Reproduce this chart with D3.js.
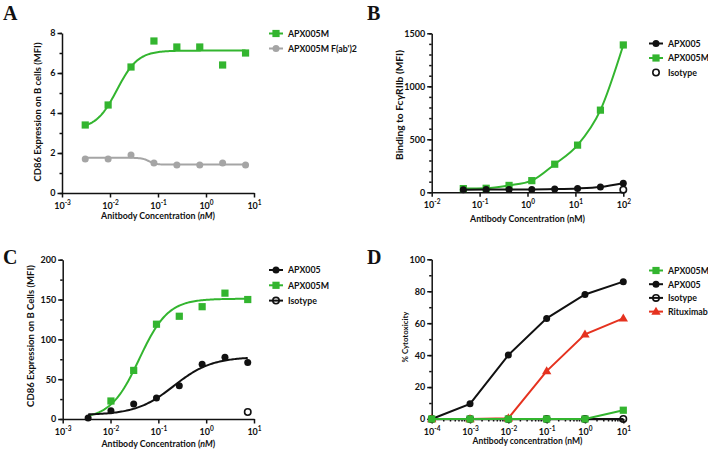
<!DOCTYPE html>
<html>
  <head>
    <meta charset="utf-8">
    <title>D3</title>
    <script src="https://d3js.org/d3.v7.min.js"></script>
    <style>
      body { margin: 0; background: #fff; }
      text { font-family: Lato, "Open Sans", sans-serif; }
    </style>
  </head>
  <body>
    <script type="text/javascript">
      // panel A
      var concA = [0.00305, 0.00914, 0.0274, 0.0823, 0.247, 0.741, 2.22, 6.67];
      var apx005mA = [3.4, 4.4, 6.3, 7.6, 7.3, 7.3, 6.4, 7.0];
      var fabA = [1.7, 1.7, 1.9, 1.5, 1.4, 1.4, 1.5, 1.4];
      // 4PL fit: value at low conc, value at high conc, ec50, hill
      var fitApx005mA = [3.2, 7.12, 0.014, 2.0];
      var fitFabA = [1.76, 1.42, 0.065, 6];

      // panel B
      var concB = [0.0457, 0.137, 0.412, 1.23, 3.70, 11.1, 33.3, 100];
      var apx005B = [25, 26, 27, 27, 30, 36, 50, 85];
      var apx005mB = [35, 38, 65, 110, 265, 445, 775, 1390];
      var isoConcB = [100];
      var isotypeB = [25];

      // panel C
      var concC = [0.0034, 0.0102, 0.0305, 0.0914, 0.274, 0.823, 2.47, 7.4];
      var apx005C = [1.3, 10.5, 18.8, 26.4, 41.8, 68.6, 77.4, 71];
      var concMC = [0.0102, 0.0305, 0.0914, 0.274, 0.823, 2.47, 7.4];
      var apx005mC = [22.6, 61, 119, 129, 141, 158, 150];
      var isoConcC = [7.4];
      var isotypeC = [8.8];
      var fitApx005C = [5, 78, 0.21, 1.1];
      var fitApx005mC = [0, 151, 0.04, 1.45];

      // panel D
      var concD = [1e-4, 1e-3, 1e-2, 1e-1, 1, 10];
      var apx005mD = [0, 0, 0, 0, 0, 5.5];
      var apx005D = [0, 9.5, 40, 63, 78, 86];
      var isotypeD = [0, 0, 0, 0, 0, 0];
      var rituxD = [0, 0, 0.5, 30, 53, 63];

      var green = '#33b52f', gray = '#a5a5a5', black = '#111', red = '#e5321f';

      var svg = d3.select('body').append('svg')
        .attr('width', 708).attr('height', 451);

      function logistic(p) {
        return function (x) { return p[0] + (p[1] - p[0]) / (1 + Math.pow(p[2] / x, p[3])); };
      }

      function fitPoints(p, lo, hi) {
        var f = logistic(p), pts = [];
        for (var i = 0; i <= 120; i++) {
          var x = Math.pow(10, Math.log10(lo) + (Math.log10(hi) - Math.log10(lo)) * i / 120);
          pts.push([x, f(x)]);
        }
        return pts;
      }

      // scale a text's font so that it spans the wanted length
      function fitText(t, size, len) {
        t.style('font-size', size + 'px');
        var l = t.node().getComputedTextLength();
        if (l > 0) t.style('font-size', (size * len / l) + 'px');
      }

      function drawMarker(g, shape, color, cx, cy) {
        if (shape == 'square') {
          g.append('rect').attr('x', cx - 3.6).attr('y', cy - 3.6).attr('width', 7.2).attr('height', 7.2).attr('fill', color);
        } else if (shape == 'circle') {
          g.append('circle').attr('cx', cx).attr('cy', cy).attr('r', 3.5).attr('fill', color);
        } else if (shape == 'open') {
          g.append('circle').attr('cx', cx).attr('cy', cy).attr('r', 3.2).attr('fill', 'none')
            .attr('stroke', color).attr('stroke-width', 1.6);
        } else if (shape == 'triangle') {
          g.append('path').attr('d', d3.symbol().type(d3.symbolTriangle).size(38)())
            .attr('transform', 'translate(' + cx + ',' + (cy + 0.5) + ')').attr('fill', color);
        }
      }

      function panel(o) {
        var g = svg.append('g');
        var x = d3.scaleLog().domain(o.xd).range(o.xr);
        var y = d3.scaleLinear().domain(o.yd).range(o.yr);

        // letter
        svg.append('text').attr('x', o.letter[0]).attr('y', o.letter[1]).text(o.name)
          .style('font-family', '"Liberation Serif", "DejaVu Serif", serif')
          .style('font-weight', 'bold').style('font-size', '20px').attr('fill', '#111');

        // y axis
        var yMinor = d3.range(o.yd[0], o.yd[1] + 1e-9, o.yMinor);
        g.append('g').attr('transform', 'translate(' + o.xr[0] + ',0)')
          .call(d3.axisLeft(y).tickValues(yMinor).tickSize(2.5).tickFormat(''))
          .call(function (s) { s.select('.domain').remove(); });
        g.append('g').attr('transform', 'translate(' + o.xr[0] + ',0)')
          .call(d3.axisLeft(y).tickValues(o.yTicks).tickSize(4.5).tickSizeOuter(0).tickPadding(2).tickFormat(d3.format('d')));

        // x axis
        var xAx = g.append('g').attr('transform', 'translate(0,' + o.yr[0] + ')')
          .call(d3.axisBottom(x).tickValues(o.xTicks).tickSize(4.5).tickSizeOuter(0).tickPadding(2.5).tickFormat(''));
        if (o.xMinor) {
          var minor = [];
          o.xTicks.forEach(function (t, i) {
            if (i < o.xTicks.length - 1) for (var k = 2; k <= 9; k++) minor.push(t * k);
          });
          g.append('g').attr('transform', 'translate(0,' + o.yr[0] + ')')
            .call(d3.axisBottom(x).tickValues(minor).tickSize(2.5).tickFormat(''))
            .call(function (s) { s.select('.domain').remove(); });
        }
        xAx.selectAll('.tick text').attr('dy', '1em').each(function (d) {
          var t = d3.select(this);
          t.append('tspan').text('10');
          t.append('tspan').text(Math.round(Math.log10(d))).attr('dy', -4).style('font-size', '6.5px');
        });
        g.selectAll('.domain, .tick line').attr('stroke', '#111').attr('stroke-width', 1.5);
        g.selectAll('.tick text').attr('fill', '#111').style('font-size', '9px').style('font-weight', 'bold');

        // labels
        var xl = svg.append('text').attr('x', (o.xr[0] + o.xr[1]) / 2).attr('y', o.xLabelY)
          .attr('text-anchor', 'middle').style('font-weight', 'bold').attr('fill', '#111');
        o.xLabel.forEach(function (part) {
          xl.append('tspan').text(part[0]).style('font-style', part[1] ? 'italic' : 'normal');
        });
        fitText(xl, 9.5, o.xLabelLen);
        var yl = svg.append('text').attr('transform', 'translate(' + o.yLabelX + ',' + o.yLabelY + ') rotate(-90)')
          .attr('text-anchor', 'middle').style('font-weight', 'bold').attr('fill', '#111')
          .text(o.yLabel);
        fitText(yl, 9.5, o.yLabelLen);

        // series
        o.series.forEach(function (s) {
          var line = d3.line().x(function (d) { return x(d[0]); }).y(function (d) { return y(d[1]); })
            .curve(s.curve || d3.curveLinear);
          if (s.fit) {
            g.append('path').datum(fitPoints(s.fit, s.fitFrom || s.xs[0], s.xs[s.xs.length - 1]))
              .attr('d', line).attr('fill', 'none').attr('stroke', s.color).attr('stroke-width', 2);
          } else if (s.line) {
            g.append('path').datum(s.xs.map(function (v, i) { return [v, s.ys[i]]; }))
              .attr('d', line).attr('fill', 'none')
              .attr('stroke', s.color).attr('stroke-width', 2);
          }
          s.xs.forEach(function (v, i) { drawMarker(g, s.shape, s.color, x(v), y(s.ys[i])); });
        });

        // legend
        o.legend.forEach(function (s, i) {
          var ly = o.legY + i * o.legStep;
          var lg = svg.append('g');
          if (s.legLine !== false) {
            lg.append('line').attr('x1', o.legX).attr('x2', o.legX + 14).attr('y1', ly).attr('y2', ly)
              .attr('stroke', s.color).attr('stroke-width', 2);
          }
          drawMarker(lg, s.shape, s.color, o.legX + 7, ly);
          lg.append('text').attr('x', o.legX + 19).attr('y', ly + 3.3).text(s.name)
            .style('font-size', '8.8px').style('font-weight', 'bold').attr('fill', '#111');
        });
      }

      // A
      var sA1 = { name: 'APX005M', xs: concA, ys: apx005mA, color: green, shape: 'square', fit: fitApx005mA };
      var sA2 = { name: "APX005M F(ab')2", xs: concA, ys: fabA, color: gray, shape: 'circle', fit: fitFabA };
      panel({
        name: 'A', letter: [3, 20],
        xd: [1e-3, 10], xr: [62, 254], yd: [0, 8], yr: [193, 33],
        xTicks: [1e-3, 1e-2, 1e-1, 1, 10], yTicks: [0, 2, 4, 6, 8], yMinor: 1,
        xLabel: [['Anitbody Concentration (', false], ['nM', true], [')', false]], xLabelY: 219, xLabelLen: 114,
        yLabel: 'CD86 Expression on B cells (MFI)', yLabelX: 41, yLabelY: 112, yLabelLen: 139,
        series: [sA2, sA1], legend: [sA1, sA2], legX: 269, legY: 33.5, legStep: 15
      });

      // B
      var sB1 = { name: 'APX005', xs: concB, ys: apx005B, color: black, shape: 'circle', line: true, curve: d3.curveMonotoneX };
      var sB2 = { name: 'APX005M', xs: concB, ys: apx005mB, color: green, shape: 'square', line: true, curve: d3.curveMonotoneX };
      var sB3 = { name: 'Isotype', xs: isoConcB, ys: isotypeB, color: black, shape: 'open', legLine: false };
      panel({
        name: 'B', letter: [367, 20],
        xd: [1e-2, 100], xr: [431.7, 623.3], yd: [0, 1500], yr: [192.3, 33.3],
        xTicks: [1e-2, 1e-1, 1, 10, 100], yTicks: [0, 500, 1000, 1500], yMinor: 100,
        xLabel: [['Antibody Concentration (nM)', false]], xLabelY: 222, xLabelLen: 115,
        yLabel: 'Binding to Fc\u03b3RIIb (MFI)', yLabelX: 403, yLabelY: 105, yLabelLen: 110,
        series: [sB2, sB1, sB3], legend: [sB1, sB2, sB3], legX: 649, legY: 43.5, legStep: 14.5
      });

      // C
      var sC1 = { name: 'APX005', xs: concC, ys: apx005C, color: black, shape: 'circle', fit: fitApx005C };
      var sC2 = { name: 'APX005M', xs: concMC, ys: apx005mC, color: green, shape: 'square', fit: fitApx005mC, fitFrom: concC[0] };
      var sC3 = { name: 'Isotype', xs: isoConcC, ys: isotypeC, color: black, shape: 'open' };
      panel({
        name: 'C', letter: [3, 264],
        xd: [1e-3, 10], xr: [62.7, 254], yd: [0, 200], yr: [419, 259.7],
        xTicks: [1e-3, 1e-2, 1e-1, 1, 10], yTicks: [0, 50, 100, 150, 200], yMinor: 25,
        xLabel: [['Antibody Concentration (', false], ['nM', true], [')', false]], xLabelY: 447, xLabelLen: 114,
        yLabel: 'CD86 Expression on B Cells (MFI)', yLabelX: 34, yLabelY: 336, yLabelLen: 142,
        series: [sC2, sC1, sC3], legend: [sC1, sC2, sC3], legX: 269, legY: 270, legStep: 15.3
      });

      // D
      var sD1 = { name: 'APX005M', xs: concD, ys: apx005mD, color: green, shape: 'square', line: true };
      var sD2 = { name: 'APX005', xs: concD, ys: apx005D, color: black, shape: 'circle', line: true };
      var sD3 = { name: 'Isotype', xs: concD, ys: isotypeD, color: black, shape: 'open', line: true };
      var sD4 = { name: 'Rituximab', xs: concD, ys: rituxD, color: red, shape: 'triangle', line: true };
      panel({
        name: 'D', letter: [367, 264],
        xd: [1e-4, 10], xr: [431.7, 623.3], yd: [0, 100], yr: [419, 259.3],
        xTicks: [1e-4, 1e-3, 1e-2, 1e-1, 1, 10], xMinor: true, yTicks: [0, 20, 40, 60, 80, 100], yMinor: 10,
        xLabel: [['Antibody concentration (nM)', false]], xLabelY: 444, xLabelLen: 110,
        yLabel: '% Cytotoxicity', yLabelX: 408, yLabelY: 337, yLabelLen: 51,
        series: [sD3, sD4, sD2, sD1], legend: [sD1, sD2, sD3, sD4], legX: 649, legY: 270.5, legStep: 13.7
      });
    </script>
  </body>
</html>
